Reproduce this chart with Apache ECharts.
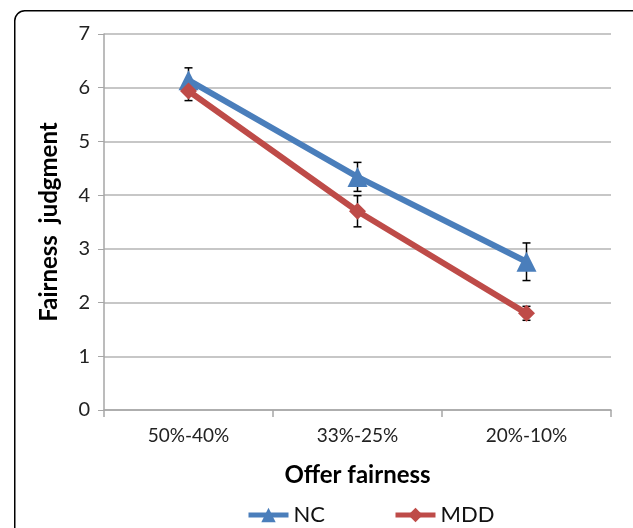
<!DOCTYPE html>
<html><head><meta charset="utf-8">
<script src="https://cdn.jsdelivr.net/npm/echarts@6/dist/echarts.min.js"></script>
<style>html,body{margin:0;padding:0;background:#fff}#c{width:633px;height:528px}</style>
</head><body><div id="c"></div>
<script>
const categories = ['50%-40%', '33%-25%', '20%-10%'];
const ncValues = [6.14, 4.34, 2.76];
const ncErrors = [0.23, 0.27, 0.35];
const mddValues = [5.94, 3.70, 1.80];
const mddErrors = [0.18, 0.29, 0.13];
const yTicks = [0, 1, 2, 3, 4, 5, 6, 7];

const FONT = 'Lato';
const chart = echarts.init(document.getElementById('c'));

function errSeries(name, vals, errs, z) {
  return {
    type: 'custom', name: name + ' err', z: z, silent: true,
    data: vals.map((v, i) => [i, v - errs[i], v + errs[i]]),
    renderItem: function (params, api) {
      const lo = api.coord([api.value(0), api.value(1)]);
      const hi = api.coord([api.value(0), api.value(2)]);
      const w = 4;
      const st = { stroke: '#000', lineWidth: 1.5 };
      return { type: 'group', children: [
        { type: 'line', shape: { x1: lo[0], y1: lo[1], x2: hi[0], y2: hi[1] }, style: st },
        { type: 'line', shape: { x1: lo[0] - w, y1: lo[1], x2: lo[0] + w, y2: lo[1] }, style: st },
        { type: 'line', shape: { x1: hi[0] - w, y1: hi[1], x2: hi[0] + w, y2: hi[1] }, style: st }
      ]};
    }
  };
}

chart.setOption({
  animation: false,
  graphic: [{
    type: 'rect', left: 14, top: 10, z: -1,
    shape: { width: 640, height: 560, r: 10 },
    style: { fill: '#fff', stroke: '#000', lineWidth: 1.5 }
  }],
  grid: { left: 104, right: 22, top: 34, bottom: 118 },
  legend: {
    top: 499, left: 241, padding: 5,
    itemWidth: 40, itemHeight: 18, itemGap: 68,
    lineStyle: { width: 5 },
    textStyle: { fontFamily: FONT, fontSize: 22, color: '#111' },
    data: ['NC', 'MDD']
  },
  xAxis: {
    type: 'category', data: categories, boundaryGap: true,
    name: 'Offer fairness', nameLocation: 'middle', nameGap: 53,
    nameTextStyle: { fontFamily: FONT, fontSize: 24, fontWeight: 'bold', color: '#000' },
    axisLine: { lineStyle: { color: '#a6a6a6', width: 1.5 } },
    axisTick: { show: true, length: 7, lineStyle: { color: '#a6a6a6', width: 1.5 } },
    axisLabel: { fontFamily: FONT, fontSize: 19, color: '#222', margin: 16 }
  },
  yAxis: {
    type: 'value', min: 0, max: 7, interval: 1,
    name: 'Fairness  judgment', nameLocation: 'middle', nameGap: 43,
    nameTextStyle: { fontFamily: FONT, fontSize: 24, fontWeight: 'bold', color: '#000' },
    axisLine: { show: true, lineStyle: { color: '#a6a6a6', width: 1.5 } },
    axisTick: { show: true, length: 6, lineStyle: { color: '#a6a6a6' } },
    axisLabel: { fontFamily: FONT, fontSize: 20, color: '#222', margin: 14,
      formatter: v => yTicks.includes(v) ? String(v) : '' },
    splitLine: { lineStyle: { color: '#b4b4b4', width: 1.5 } }
  },
  series: [
    errSeries('NC', ncValues, ncErrors, 1),
    errSeries('MDD', mddValues, mddErrors, 1),
    {
      name: 'NC', type: 'line', data: ncValues, z: 3,
      symbol: 'triangle', symbolSize: 20,
      lineStyle: { color: '#4a7ebb', width: 6 },
      itemStyle: { color: '#4a7ebb' }
    },
    {
      name: 'MDD', type: 'line', data: mddValues, z: 4,
      symbol: 'diamond', symbolSize: 17,
      lineStyle: { color: '#be4b48', width: 6 },
      itemStyle: { color: '#be4b48' }
    }
  ]
});
</script></body></html>
